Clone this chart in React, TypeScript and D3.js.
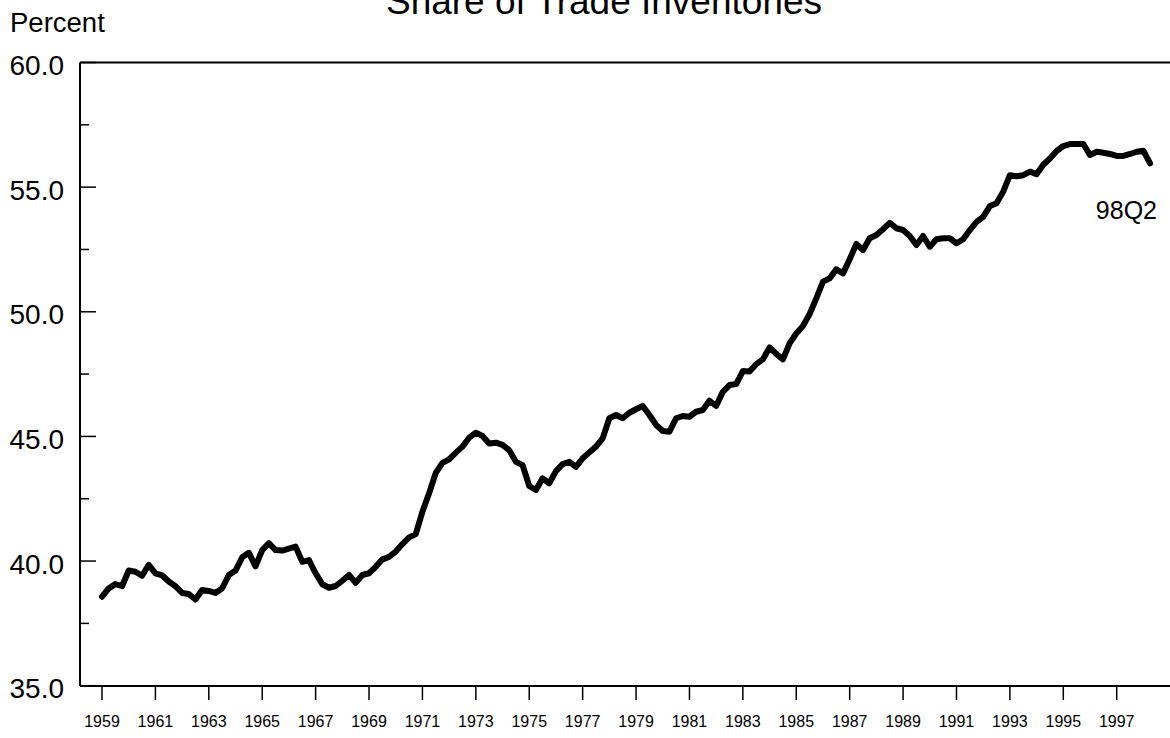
import React from "react";
import * as d3 from "d3";

const startYear = 1959;
const shareValues: number[] = [
  38.57, 38.9, 39.08, 38.99, 39.62, 39.57, 39.41, 39.85, 39.51, 39.43,
  39.18, 38.99, 38.72, 38.68, 38.46, 38.84, 38.8, 38.72, 38.91, 39.44,
  39.62, 40.15, 40.33, 39.79, 40.44, 40.72, 40.44, 40.42, 40.5, 40.58,
  39.97, 40.04, 39.51, 39.07, 38.93, 39.0, 39.21, 39.44, 39.13, 39.44,
  39.51, 39.77, 40.07, 40.17, 40.38, 40.68, 40.95, 41.08, 41.98, 42.72,
  43.54, 43.94, 44.08, 44.35, 44.59, 44.95, 45.15, 45.02, 44.72, 44.75,
  44.66, 44.45, 43.98, 43.85, 43.01, 42.85, 43.32, 43.12, 43.61, 43.89,
  43.98, 43.78, 44.12, 44.36, 44.59, 44.92, 45.73, 45.86, 45.73, 45.95,
  46.09, 46.22, 45.86, 45.46, 45.22, 45.19, 45.73, 45.82, 45.79, 45.99,
  46.06, 46.43, 46.22, 46.79, 47.06, 47.1, 47.62, 47.6, 47.9, 48.09,
  48.57, 48.31, 48.09, 48.73, 49.13, 49.43, 49.91, 50.54, 51.21, 51.34,
  51.7, 51.54, 52.11, 52.72, 52.48, 52.95, 53.08, 53.31, 53.57, 53.35,
  53.28, 53.04, 52.68, 53.04, 52.61, 52.91, 52.95, 52.95, 52.75, 52.91,
  53.28, 53.61, 53.81, 54.24, 54.35, 54.82, 55.48, 55.44, 55.48, 55.62,
  55.52, 55.9, 56.15, 56.45, 56.65, 56.73, 56.73, 56.73, 56.29, 56.42,
  56.38, 56.33, 56.25, 56.25, 56.33, 56.42, 56.46, 55.95,
];
const yearTicks: number[] = [1959, 1961, 1963, 1965, 1967, 1969, 1971, 1973, 1975, 1977, 1979, 1981, 1983, 1985, 1987, 1989, 1991, 1993, 1995, 1997];
const yMajorTicks: number[] = [35, 40, 45, 50, 55, 60];
const yMinorTicks: number[] = [37.5, 42.5, 47.5, 52.5, 57.5];
const titleText = "Share of Trade Inventories";
const unitText = "Percent";
const endLabel = "98Q2";

const FONT = "'Liberation Sans', Arial, Helvetica, sans-serif";

export default function App() {
  const W = 1170;
  const H = 738;
  const left = 80;
  const top = 62.5;
  const bottom = 686;
  const x = d3.scaleLinear().domain([1959, 1997]).range([102, 1116.7]);
  const y = d3.scaleLinear().domain([35, 60]).range([685.7, 62.5]);
  const pts = shareValues.map((v, i) => ({ t: startYear + i / 4, v }));
  const line = d3
    .line<{ t: number; v: number }>()
    .x((d) => x(d.t))
    .y((d) => y(d.v));

  return (
    <svg
      width={W}
      height={H}
      style={{ position: "absolute", left: 0, top: 0, background: "#fff" }}
      fontFamily={FONT}
    >
      <rect x={0} y={0} width={W} height={H} fill="#fff" />
      <text x={604} y={14} fontSize={37} textAnchor="middle" fill="#000">
        {titleText}
      </text>
      <text x={10} y={32} fontSize={27.5} fill="#000">
        {unitText}
      </text>
      {/* frame */}
      <line x1={left} x2={W} y1={top} y2={top} stroke="#000" strokeWidth={2} />
      <line x1={left} x2={W} y1={bottom} y2={bottom} stroke="#000" strokeWidth={2} />
      <line x1={left} x2={left} y1={top} y2={bottom} stroke="#000" strokeWidth={2} />
      {/* y ticks */}
      {yMajorTicks.map((t) => (
        <g key={"ym" + t}>
          <line x1={left} x2={left + 16} y1={y(t)} y2={y(t)} stroke="#000" strokeWidth={1.5} />
          <text x={64} y={y(t) + 12.5} fontSize={28} textAnchor="end" fill="#000">
            {t.toFixed(1)}
          </text>
        </g>
      ))}
      {yMinorTicks.map((t) => (
        <line key={"yn" + t} x1={left} x2={left + 9} y1={y(t)} y2={y(t)} stroke="#000" strokeWidth={1.5} />
      ))}
      {/* x ticks */}
      {yearTicks.map((yr) => (
        <g key={"x" + yr}>
          <line x1={x(yr)} x2={x(yr)} y1={bottom} y2={700} stroke="#000" strokeWidth={1.5} />
          <text x={x(yr)} y={727} fontSize={16} textAnchor="middle" fill="#000">
            {yr}
          </text>
        </g>
      ))}
      <path d={line(pts) || ""} fill="none" stroke="#000" strokeWidth={6} strokeLinejoin="round" strokeLinecap="round" />
      <text x={1157} y={219} fontSize={25} textAnchor="end" fill="#000">
        {endLabel}
      </text>
    </svg>
  );
}
